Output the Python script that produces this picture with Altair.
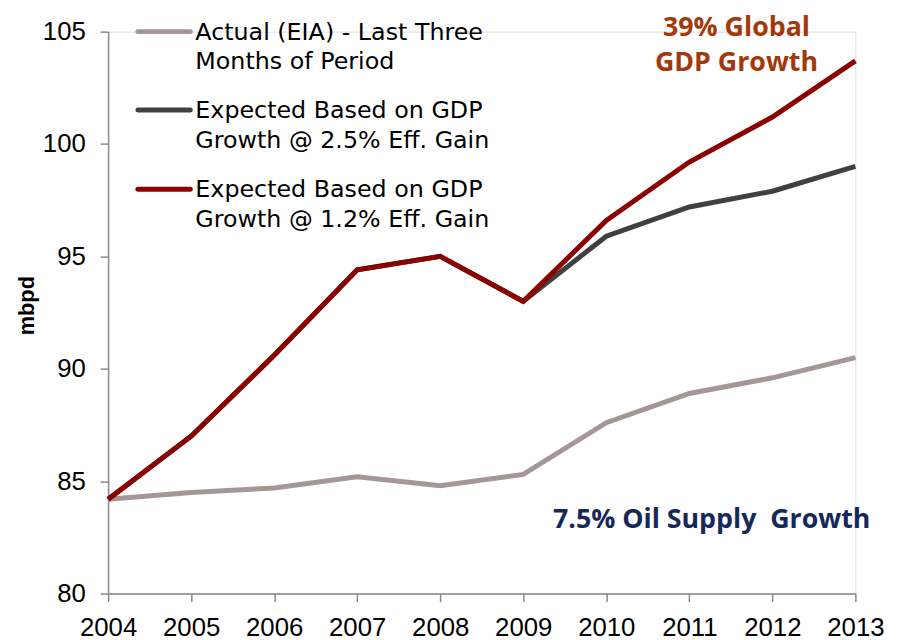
import altair as alt
import pandas as pd

years = [2004, 2005, 2006, 2007, 2008, 2009, 2010, 2011, 2012, 2013]
actual = [84.2, 84.5, 84.7, 85.2, 84.8, 85.3, 87.6, 88.9, 89.6, 90.5]
exp_25 = [84.2, 87.0, 90.6, 94.4, 95.0, 93.0, 95.9, 97.2, 97.9, 99.0]
exp_12 = [84.2, 87.0, 90.6, 94.4, 95.0, 93.0, 96.6, 99.2, 101.2, 103.7]

series_names = ["Actual", "Exp25", "Exp12"]
series_values = [actual, exp_25, exp_12]
series_colors = ["#A69797", "#404040", "#8B0000"]
legend_labels = [
    "Actual (EIA) - Last Three\nMonths of Period",
    "Expected Based on GDP\nGrowth @ 2.5% Eff. Gain",
    "Expected Based on GDP\nGrowth @ 1.2% Eff. Gain",
]
y_ticks = [80, 85, 90, 95, 100, 105]

rows = []
for name, vals in zip(series_names, series_values):
    for yr, v in zip(years, vals):
        rows.append({"year": yr, "value": v, "series": name})
df = pd.DataFrame(rows)

FONT = "Liberation Sans"
LEGEND_FONT = "DejaVu Sans"

x_enc = alt.X(
    "year:Q",
    scale=alt.Scale(domain=[2004, 2013], nice=False, zero=False),
    axis=alt.Axis(
        values=years, format="d", title=None, grid=False,
        labelFontSize=26, labelFont=FONT, labelColor="black",
        tickSize=8, labelPadding=13, domainColor="#898989", tickColor="#898989",
        domainWidth=1.5, tickWidth=1.5, labelFlush=False,
    ),
)
y_enc = alt.Y(
    "value:Q",
    scale=alt.Scale(domain=[80, 105], nice=False, zero=False),
    axis=alt.Axis(
        values=y_ticks, title="mbpd", grid=False,
        labelFontSize=26, labelFont=FONT, labelColor="black",
        tickSize=8, labelPadding=15, domainColor="#898989", tickColor="#898989",
        domainWidth=1.5, tickWidth=1.5,
        titleFont=FONT, titleFontSize=22, titleFontWeight="bold", titleColor="black",
        titleAngle=-90, titleX=-82, titleY=276, titleAlign="center", titleBaseline="middle",
    ),
)

layers = [
    alt.Chart(df[df.series == n]).mark_line(strokeWidth=5, color=c).encode(x=x_enc, y=y_enc)
    for n, c in zip(series_names, series_colors)
]

legend_layers = []
sym_y = [0, 79, 159]
for i, (lab, c) in enumerate(zip(legend_labels, series_colors)):
    legend_layers.append(
        alt.Chart(pd.DataFrame({"a": [0]})).mark_rule(strokeWidth=5, color=c, strokeCap="round").encode(
            x=alt.value(30), x2=alt.value(83), y=alt.value(sym_y[i])
        )
    )
    legend_layers.append(
        alt.Chart(pd.DataFrame({"t": [lab]})).mark_text(
            align="left", baseline="alphabetic", font=LEGEND_FONT, fontSize=24,
            lineBreak="\n", lineHeight=30, color="black",
        ).encode(x=alt.value(88), y=alt.value(sym_y[i] + 8), text="t:N")
    )

ann1 = alt.Chart(pd.DataFrame({"t": ["39% Global\nGDP Growth"]})).mark_text(
    align="center", baseline="alphabetic", font="Open Sans", fontSize=27, fontWeight="bold",
    lineBreak="\n", lineHeight=36, color="#A3390B",
).encode(x=alt.value(634), y=alt.value(4), text="t:N")

ann2 = alt.Chart(pd.DataFrame({"t": ["7.5% Oil Supply\u00a0 Growth"]})).mark_text(
    align="center", baseline="alphabetic", font="Open Sans", fontSize=27, fontWeight="bold",
    color="#16285A",
).encode(x=alt.value(609), y=alt.value(501), text="t:N")

chart = alt.layer(*layers, *legend_layers, ann1, ann2).properties(
    width=754, height=567,
    autosize=alt.AutoSizeParams(type="none"),
    padding={"left": 101, "top": 21, "right": 44, "bottom": 44},
).configure_view(stroke=None).configure(background="white")

chart.save("out.html", embed_options={"renderer": "svg", "actions": False})
